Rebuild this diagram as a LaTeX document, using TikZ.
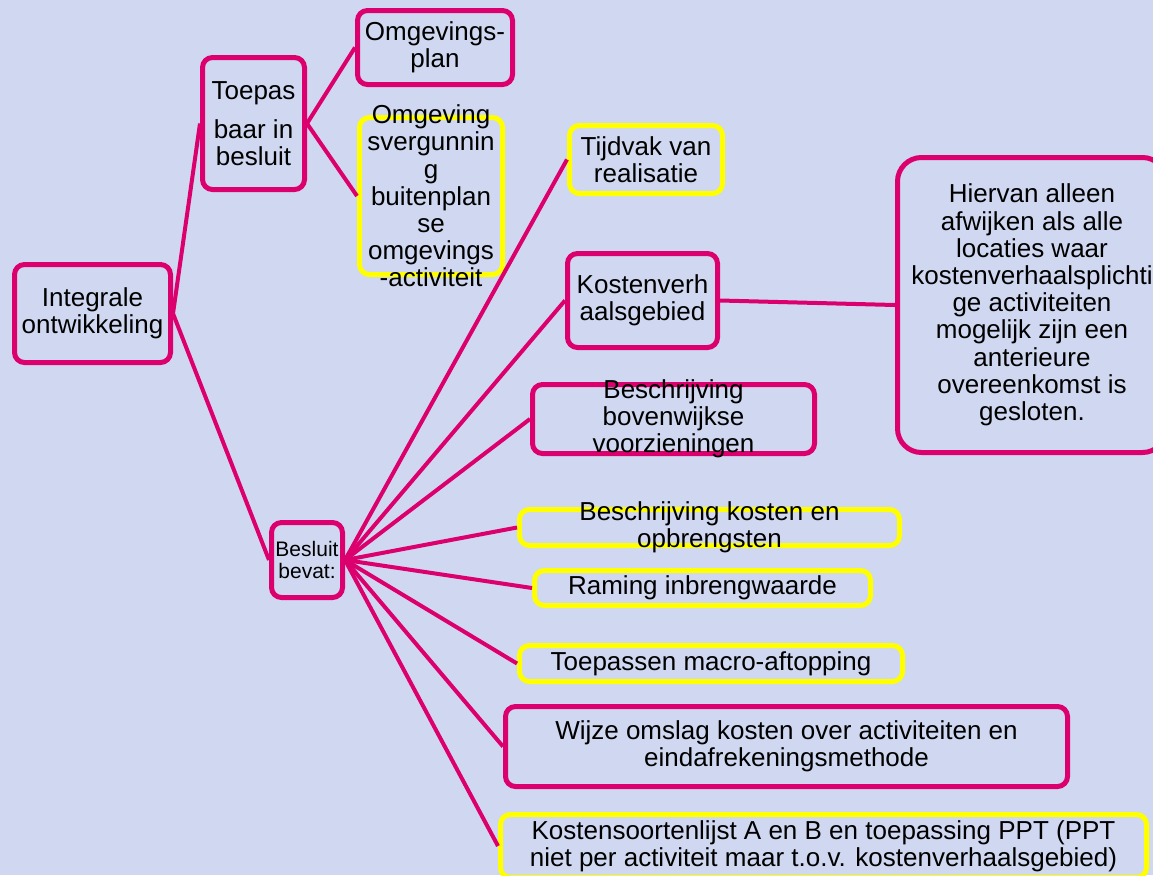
\documentclass[tikz,border=0pt]{standalone}
\usepackage{fontspec}
\setmainfont{Liberation Sans}
\definecolor{bgblue}{RGB}{207,216,240}
\definecolor{mpink}{RGB}{220,0,110}
\definecolor{myellow}{RGB}{255,255,0}
\begin{document}
\begin{tikzpicture}[x=0.5pt, y=-0.5pt,
    kader/.style={line width=2.5pt, rounded corners=5pt, inner sep=0pt, align=center, font=\fontsize{13}{13.6}\selectfont},
    pbox/.style={kader, draw=mpink},
    ybox/.style={kader, draw=myellow},
    txt/.style={align=center, inner sep=0pt, font=\fontsize{13}{13.6}\selectfont},
    tak/.style={draw=mpink, line width=2pt}]
  \useasboundingbox[fill=bgblue] (0,0) rectangle (1153,875);
  \node[pbox, minimum width=78pt, minimum height=49pt] (integrale) at (92.5,313.5) {Integrale\\ontwikkeling};
  \node[pbox, minimum width=51pt, minimum height=66pt] (toepas) at (253.5,123.5) {Toepas\\[6pt]baar in\\besluit};
  \node[pbox, minimum width=77.5pt, minimum height=37pt] (omgplan) at (435,47.5) {Omgevings-\\plan};
  \node[ybox, minimum width=71.5pt, minimum height=78.5pt, label={[txt]center:Omgeving\\svergunnin\\g\\buitenplan\\se\\omgevings\\-activiteit}] (omgverg) at (431,196) {};
  \node[ybox, minimum width=76.5pt, minimum height=34pt] (tijdvak) at (646,159.5) {Tijdvak van\\realisatie};
  \node[pbox, minimum width=75pt, minimum height=47pt] (kostgeb) at (642.5,300.5) {Kostenverh\\aalsgebied};
  \node[pbox, minimum width=134.5pt, minimum height=147.5pt, rounded corners=12pt] (hiervan) at (1032,305) {Hiervan alleen\\afwijken als alle\\locaties waar\\kostenverhaalsplichti\\ge activiteiten\\mogelijk zijn een\\anterieure\\overeenkomst is\\gesloten.};
  \node[pbox, minimum width=141pt, minimum height=34.5pt, label={[txt]center:Beschrijving\\bovenwijkse\\voorzieningen}] (bovenw) at (673.5,419) {};
  \node[pbox, minimum width=35.5pt, minimum height=37.5pt, font=\fontsize{10.5}{11}\selectfont] (besluit) at (307,560) {Besluit\\bevat:};
  \node[ybox, minimum width=190pt, minimum height=18pt, label={[txt]center:Beschrijving kosten en\\opbrengsten}] (kostopbr) at (709.5,527.5) {};
  \node[ybox, minimum width=168pt, minimum height=17.5pt] (raming) at (702.5,588) {Raming inbrengwaarde};
  \node[ybox, minimum width=191.5pt, minimum height=18pt] (toepmac) at (711,663.5) {Toepassen macro-aftopping};
  \node[pbox, minimum width=281pt, minimum height=40pt] (wijze) at (786.5,746.5) {Wijze omslag kosten over activiteiten en\\eindafrekeningsmethode};
  \node[ybox, minimum width=323pt, minimum height=31.5pt] (kostsoort) at (823.5,846) {Kostensoortenlijst A en B en toepassing PPT (PPT\\niet per activiteit maar t.o.v. kostenverhaalsgebied)};
  \draw[tak] (integrale.east) -- (toepas.west);
  \draw[tak] (integrale.east) -- (besluit.west);
  \draw[tak] (toepas.east) -- (omgplan.west);
  \draw[tak] (toepas.east) -- (omgverg.west);
  \foreach \doel in {tijdvak,kostgeb,bovenw,kostopbr,raming,toepmac,wijze,kostsoort}
    \draw[tak] (besluit.east) -- (\doel.west);
  \draw[tak] (kostgeb.east) -- (hiervan.west);
\end{tikzpicture}
\end{document}
